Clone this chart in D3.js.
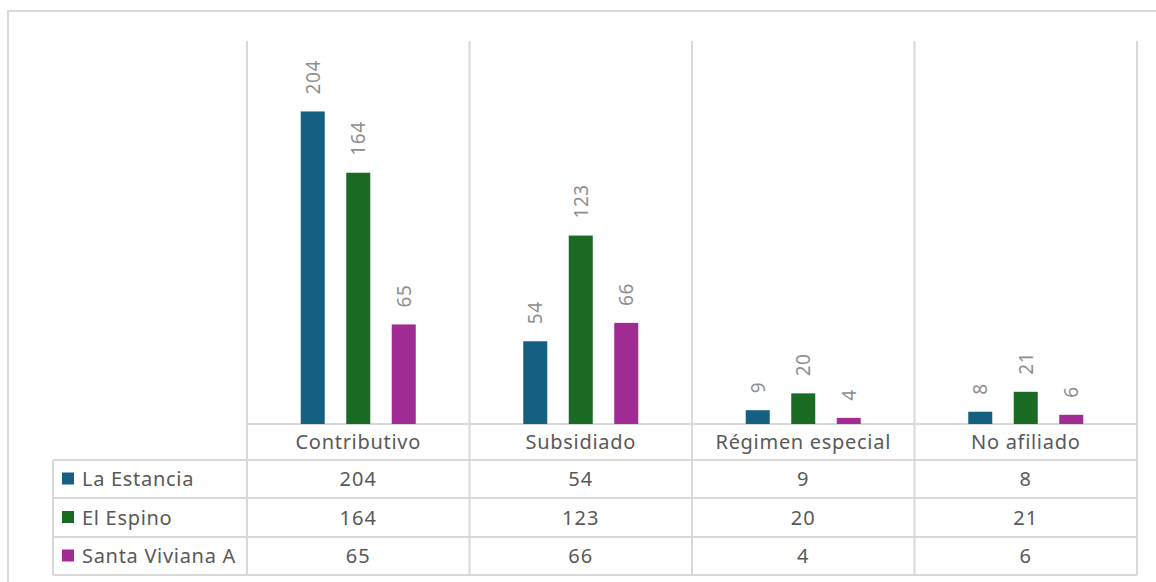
<!DOCTYPE html>
<html><head><meta charset="utf-8">
<script src="https://cdn.jsdelivr.net/npm/d3@7"></script>
<style>
html,body{margin:0;padding:0;background:#fff;}
svg{display:block;font-family:"Noto Sans","Open Sans",sans-serif;}
</style></head>
<body>
<svg id="chart" width="1156" height="582"></svg>
<script>
const categories = ["Contributivo", "Subsidiado", "Régimen especial", "No afiliado"];
const seriesNames = ["La Estancia", "El Espino", "Santa Viviana A"];
const laEstancia = [204, 54, 9, 8];
const elEspino = [164, 123, 20, 21];
const santaViviana = [65, 66, 4, 6];
const seriesValues = [laEstancia, elEspino, santaViviana];
const colors = ["#156082", "#196B24", "#A02B93"];
const yMax = 250;

(function () {
const svg = d3.select("#chart");
const grid = "#d9d9d9";

svg.append("rect").attr("x", 8).attr("y", 11).attr("width", 1170).attr("height", 600)
  .attr("fill", "none").attr("stroke", "#d9d9d9").attr("stroke-width", 2);

const pLeft = 247, pRight = 1137, pTop = 41, base = 424;
const rowYs = [460, 498, 537, 575];
const legendLeft = 53;

const x = d3.scaleBand().domain(categories).range([pLeft, pRight]);
const y = d3.scaleLinear().domain([0, yMax]).range([base, pTop]);

const g = svg.append("g");

categories.forEach(c => {
  g.append("line").attr("x1", x(c)).attr("x2", x(c)).attr("y1", pTop).attr("y2", rowYs[3]).attr("stroke", grid).attr("stroke-width", 2);
});
g.append("line").attr("x1", pRight).attr("x2", pRight).attr("y1", pTop).attr("y2", rowYs[3]).attr("stroke", grid).attr("stroke-width", 2);
g.append("line").attr("x1", legendLeft).attr("x2", legendLeft).attr("y1", rowYs[0]).attr("y2", rowYs[3]).attr("stroke", grid).attr("stroke-width", 2);
g.append("line").attr("x1", pLeft).attr("x2", pRight).attr("y1", base).attr("y2", base).attr("stroke", grid).attr("stroke-width", 2);
rowYs.forEach(ry => {
  g.append("line").attr("x1", legendLeft).attr("x2", pRight).attr("y1", ry).attr("y2", ry).attr("stroke", grid).attr("stroke-width", 2);
});

const bw = 24, step = 45.5;
seriesNames.forEach((s, si) => {
  categories.forEach((c, ci) => {
    const v = seriesValues[si][ci];
    const cx = x(c) + x.bandwidth() / 2 + (si - 1) * step;
    g.append("rect").attr("x", cx - bw / 2).attr("y", y(v)).attr("width", bw).attr("height", base - y(v))
      .attr("fill", colors[si]);
    g.append("text").attr("transform", `translate(${cx + 7},${y(v) - 17}) rotate(-90)`)
      .attr("text-anchor", "start").attr("font-size", 19).attr("letter-spacing", 0.6)
      .attr("fill", "#8f8f8f").text(v);
  });
});

categories.forEach(c => {
  g.append("text").attr("x", x(c) + x.bandwidth() / 2).attr("y", (base + rowYs[0]) / 2 + 7)
    .attr("text-anchor", "middle").attr("font-size", 20).attr("letter-spacing", 0.7)
    .attr("fill", "#595959").text(c);
});

seriesNames.forEach((s, si) => {
  const cy = (rowYs[si] + rowYs[si + 1]) / 2;
  g.append("rect").attr("x", 62).attr("y", cy - 6.5).attr("width", 12).attr("height", 12).attr("fill", colors[si]);
  g.append("text").attr("x", 82).attr("y", cy + 7).attr("font-size", 20).attr("letter-spacing", 0.7)
    .attr("fill", "#595959").text(s);
  categories.forEach((c, ci) => {
    g.append("text").attr("x", x(c) + x.bandwidth() / 2).attr("y", cy + 7)
      .attr("text-anchor", "middle").attr("font-size", 20).attr("letter-spacing", 1)
      .attr("fill", "#595959").text(seriesValues[si][ci]);
  });
});
})();
</script>
</body></html>
